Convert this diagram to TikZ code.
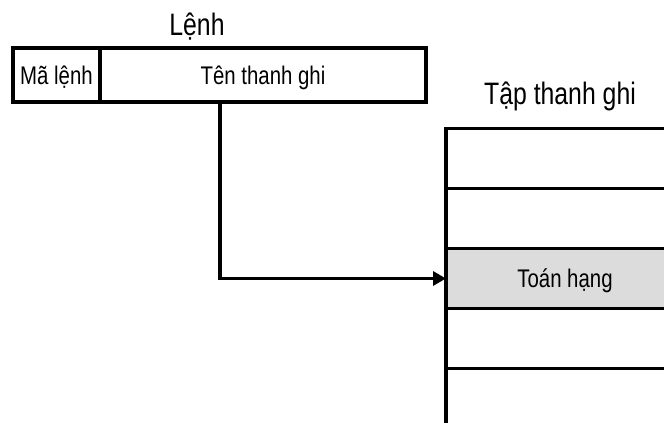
\documentclass[tikz,border=0pt]{standalone}
\usepackage{fontspec}
\setmainfont[FakeStretch=0.8]{Liberation Sans}
\usepackage{xcolor}
\usetikzlibrary{arrows.meta, positioning}

\definecolor{hilite}{HTML}{DCDCDC}
\tikzset{
  field/.style={draw, line width=3.4pt, minimum height=54pt, inner sep=0pt, outer sep=0pt,
    font=\fontsize{25.5}{30}\selectfont, text depth=0pt},
  register/.style={draw, line width=3.4pt, minimum width=238pt, minimum height=60pt,
    inner sep=0pt, outer sep=0pt, font=\fontsize{25.5}{30}\selectfont, text depth=0pt},
  heading/.style={anchor=base, inner sep=0pt, font=\fontsize{31}{36}\selectfont}
}

\begin{document}
\begin{tikzpicture}[x=1pt, y=-1pt]
\useasboundingbox (0,0) rectangle (664,423);
\clip (0,0) rectangle (664,423);

% Instruction
\node[heading] (instr) at (197,35) {Lệnh};
\node[field, minimum width=87pt] (opcode) at (56.5,75) {Mã lệnh};
\node[field, minimum width=326pt, right=0pt of opcode] (regname) {Tên thanh ghi};

% Register file
\node[heading] (regfile) at (560,104) {Tập thanh ghi};
\node[register] (r1) at (565,158.5) {};
\node[register, below=0pt of r1] (r2) {};
\node[register, fill=hilite, below=0pt of r2] (r3) {Toán hạng};
\node[register, below=0pt of r3] (r4) {};
\node[register, below=0pt of r4] (r5) {};

\draw[-{Triangle[length=13pt,width=14pt]}, line width=3.2pt]
  ([xshift=120pt]regname.south west) |- (r3.west);
\end{tikzpicture}
\end{document}
